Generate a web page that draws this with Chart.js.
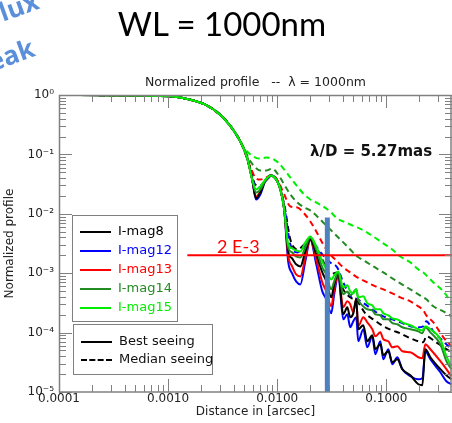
<!DOCTYPE html>
<html>
<head>
<meta charset="utf-8">
<script src="https://cdn.jsdelivr.net/npm/chart.js@4.4.0/dist/chart.umd.min.js"></script>
<style>
  html, body { margin: 0; padding: 0; background: #fff; overflow: hidden; }
  #wrap { position: relative; width: 452px; height: 423px; overflow: hidden; }
  #wrap canvas { position: absolute; left: 0; top: 0; }
  .ov { position: absolute; white-space: pre; line-height: 1; }
  .lgbox { position: absolute; border: 1px solid #7f7f7f; background: #fff; }
  .row { position: absolute; left: 0; font: 13px 'DejaVu Sans'; line-height: 1; }
  .row .ln { position: absolute; left: 7px; width: 31px; top: 7px; border-top: 2px solid #000; }
  .row .tx { position: absolute; left: 45px; top: 0; white-space: pre; }
</style>
</head>
<body>
<div id="wrap">
  <canvas id="chartProfile" width="452" height="423"></canvas>

  <div class="ov" style="left:-16px;top:-1px;transform:rotate(-20deg);transform-origin:0 0;font:bold 26px 'Open Sans';color:#5b8fd9;">flux</div>
  <div class="ov" style="left:-33px;top:51px;transform:rotate(-20deg);transform-origin:0 0;font:bold 26px 'Open Sans';color:#5b8fd9;">peak</div>

  <div class="ov" style="left:0;width:444px;top:3px;text-align:center;font:33px Lato;color:#000;">WL = 1000nm</div>
  <div class="ov" style="left:59px;width:393px;top:74px;text-align:center;font:12.5px 'DejaVu Sans';color:#222;">Normalized profile   --  λ = 1000nm</div>
  <div class="ov" style="left:310px;top:142px;font:bold 15px 'DejaVu Sans';color:#111;">λ/D = 5.27mas</div>
  <div class="ov" style="left:217px;top:235px;font:18px Lato;color:#ff0000;">2 E-3</div>

  <div class="lgbox" style="left:72px;top:215px;width:104px;height:105px;">
    <div class="row" style="top:8px;color:#000;"><span class="ln" style="border-color:#000;"></span><span class="tx">I-mag8</span></div>
    <div class="row" style="top:27px;color:#0000ff;"><span class="ln" style="border-color:#0000ff;"></span><span class="tx">I-mag12</span></div>
    <div class="row" style="top:46px;color:#ff0000;"><span class="ln" style="border-color:#ff0000;"></span><span class="tx">I-mag13</span></div>
    <div class="row" style="top:65px;color:#228b22;"><span class="ln" style="border-color:#228b22;"></span><span class="tx">I-mag14</span></div>
    <div class="row" style="top:84px;color:#00ee00;"><span class="ln" style="border-color:#00ee00;"></span><span class="tx">I-mag15</span></div>
  </div>
  <div class="lgbox" style="left:73px;top:324px;width:138px;height:49px;">
    <div class="row" style="top:9px;color:#111;"><span class="ln" style="border-color:#000;"></span><span class="tx">Best seeing</span></div>
    <div class="row" style="top:27px;color:#111;"><span class="ln" style="border-top-style:dashed;border-color:#000;"></span><span class="tx">Median seeing</span></div>
  </div>
</div>

<script>
// distances [arcsec]
const bestDist = [0.0001, 0.001, 0.0016, 0.0022, 0.003, 0.0037, 0.0046, 0.0053, 0.0059, 0.0064,
  0.007, 0.0078, 0.0088, 0.0098, 0.0107, 0.0116, 0.0126, 0.0137, 0.0149, 0.0163,
  0.0181, 0.0201, 0.0228, 0.0259, 0.0282, 0.0313, 0.0333, 0.0363, 0.0403, 0.0439,
  0.0467, 0.0498, 0.053, 0.0553, 0.0615, 0.0669, 0.0744, 0.0793, 0.0881, 0.0939,
  0.1043, 0.1135, 0.1261, 0.1402, 0.1661, 0.1966, 0.2139, 0.2279, 0.2533, 0.3129,
  0.3552, 0.3947];
const medianDist = [0.0001, 0.001, 0.0016, 0.0022, 0.003, 0.0037, 0.0046, 0.0051, 0.0057, 0.0063,
  0.007, 0.0079, 0.009, 0.0102, 0.0116, 0.0132, 0.0153, 0.0177, 0.0201, 0.0228,
  0.0264, 0.0306, 0.0355, 0.0403, 0.0467, 0.0542, 0.0642, 0.076, 0.0939, 0.1135,
  0.1344, 0.1661, 0.1966, 0.2184, 0.2328, 0.2699, 0.3333, 0.3947];

// best seeing (solid)
const bestMag8 = [1.0, 0.955, 0.834, 0.687, 0.467, 0.305, 0.164, 0.0883, 0.0377, 0.0181,
  0.0228, 0.0363, 0.0441, 0.0377, 0.0256, 0.0118, 0.00232, 0.00177, 0.00141, 0.0013,
  0.00232, 0.0037, 0.00207, 0.00103, 0.000728, 0.000392, 0.000648, 0.000993, 0.000203, 0.000266,
  0.000181, 0.000211, 0.000363, 0.000114, 0.000133, 7.14e-5, 9.01e-5, 5.25e-5, 6.37e-5, 4.16e-5,
  4.85e-5, 3.17e-5, 3.56e-5, 2.42e-5, 1.91e-5, 1.35e-5, 1.3e-5, 5.25e-5, 3.85e-5, 2.42e-5,
  1.91e-5, 1.64e-5];
const bestMag12 = [1.0, 0.955, 0.834, 0.687, 0.467, 0.305, 0.164, 0.0883, 0.0377, 0.0174,
  0.0211, 0.0363, 0.0441, 0.0377, 0.0256, 0.0118, 0.00158, 0.000993, 0.000728, 0.000648,
  0.00158, 0.0037, 0.00141, 0.000494, 0.000363, 0.000211, 0.000441, 0.000918, 0.000167, 0.000203,
  0.000123, 0.000155, 0.000181, 7.14e-5, 0.000114, 5.66e-5, 8.67e-5, 4.33e-5, 7.14e-5, 3.56e-5,
  5.25e-5, 2.93e-5, 3.85e-5, 2.42e-5, 1.84e-5, 1.64e-5, 1.71e-5, 4.85e-5, 3.56e-5, 2.15e-5,
  1.52e-5, 1.35e-5];
const bestMag13 = [1.0, 0.955, 0.834, 0.687, 0.467, 0.305, 0.164, 0.0883, 0.0377, 0.0195,
  0.0237, 0.0363, 0.0441, 0.0377, 0.0256, 0.0118, 0.00199, 0.0013, 0.000955, 0.000883,
  0.00184, 0.0037, 0.00171, 0.0007, 0.000494, 0.000277, 0.000535, 0.000955, 0.000266, 0.000336,
  0.000299, 0.000219, 0.000363, 0.000128, 0.000181, 0.000149, 0.000114, 8.67e-5, 0.000101, 7.73e-5,
  7.14e-5, 5.66e-5, 5.89e-5, 4.85e-5, 4.67e-5, 3.85e-5, 3.7e-5, 6.37e-5, 5.25e-5, 3.3e-5,
  2.42e-5, 1.84e-5];
const bestMag14 = [1.0, 0.955, 0.834, 0.687, 0.467, 0.305, 0.164, 0.0883, 0.0377, 0.0228,
  0.0256, 0.0363, 0.0441, 0.0377, 0.0256, 0.0118, 0.00272, 0.00224, 0.00191, 0.00184,
  0.00272, 0.004, 0.00251, 0.00125, 0.000955, 0.000535, 0.000728, 0.00103, 0.000441, 0.000494,
  0.000424, 0.000475, 0.000535, 0.000363, 0.000277, 0.000247, 0.000237, 0.000203, 0.000195, 0.000167,
  0.000167, 0.000144, 0.000138, 0.000123, 0.000114, 0.000105, 9.73e-5, 0.000123, 0.000101, 6.37e-5,
  3.3e-5, 2.42e-5];
const bestMag15 = [1.0, 0.955, 0.834, 0.687, 0.467, 0.305, 0.164, 0.0883, 0.0377, 0.0256,
  0.0288, 0.0377, 0.0441, 0.0377, 0.0256, 0.0118, 0.00305, 0.00261, 0.00242, 0.00232,
  0.0033, 0.00416, 0.00282, 0.00158, 0.00116, 0.000787, 0.000918, 0.00107, 0.000577, 0.000624,
  0.000494, 0.000457, 0.000535, 0.000392, 0.000408, 0.000311, 0.000288, 0.000247, 0.000247, 0.000211,
  0.000195, 0.000174, 0.000167, 0.000149, 0.000133, 0.000114, 0.000109, 0.000128, 0.000114, 7.73e-5,
  4e-5, 2.72e-5];

// median seeing (dashed)
const medianMag8 = [1.0, 0.955, 0.834, 0.687, 0.467, 0.305, 0.164, 0.1072, 0.0556, 0.0311,
  0.0299, 0.0377, 0.0441, 0.0336, 0.0143, 0.0037, 0.00251, 0.00305, 0.004, 0.00272,
  0.00158, 0.000955, 0.00103, 0.000535, 0.000392, 0.000336, 0.000211, 0.000167, 0.000128, 0.000109,
  9.73e-5, 8.02e-5, 7.14e-5, 6.87e-5, 8.67e-5, 7.43e-5, 5.66e-5, 4.67e-5];
const medianMag12 = [1.0, 0.955, 0.834, 0.687, 0.467, 0.305, 0.164, 0.1072, 0.0534, 0.0288,
  0.0277, 0.0363, 0.0441, 0.0336, 0.0133, 0.00305, 0.00224, 0.00282, 0.00385, 0.00282,
  0.00199, 0.00152, 0.00125, 0.0007, 0.000424, 0.000363, 0.000299, 0.000237, 0.000188, 0.000167,
  0.000149, 0.000128, 0.000123, 0.000128, 0.000155, 0.000105, 7.14e-5, 5.25e-5];
const medianMag13 = [1.0, 0.955, 0.834, 0.687, 0.467, 0.305, 0.164, 0.1032, 0.06, 0.0408,
  0.0377, 0.0408, 0.0458, 0.0349, 0.0211, 0.0133, 0.0128, 0.0101, 0.00743, 0.00505,
  0.00305, 0.00207, 0.00158, 0.00125, 0.00103, 0.000849, 0.000728, 0.000624, 0.000535, 0.000457,
  0.000392, 0.000336, 0.000277, 0.000237, 0.000195, 0.000149, 8.34e-5, 5.89e-5];
const medianMag14 = [1.0, 0.955, 0.834, 0.687, 0.467, 0.305, 0.164, 0.1114, 0.0757, 0.06,
  0.0534, 0.0534, 0.0577, 0.0458, 0.0311, 0.0211, 0.0155, 0.0128, 0.0114, 0.00936,
  0.00714, 0.00545, 0.00416, 0.0033, 0.00251, 0.00191, 0.00158, 0.0013, 0.00103, 0.000818,
  0.000674, 0.000535, 0.000441, 0.000392, 0.000363, 0.000277, 0.000228, 0.000188];
const medianMag15 = [1.0, 0.955, 0.834, 0.687, 0.467, 0.305, 0.164, 0.1205, 0.0993, 0.0883,
  0.085, 0.0883, 0.085, 0.0728, 0.0556, 0.0408, 0.0288, 0.0211, 0.0174, 0.0155,
  0.0133, 0.0109, 0.00834, 0.00743, 0.00661, 0.00589, 0.00505, 0.00416, 0.00317, 0.00251,
  0.00191, 0.00152, 0.00116, 0.00103, 0.000918, 0.0007, 0.000494, 0.000323];

// annotations: 2E-3 level and lambda/D bar
const levelDist = [0.0015, 0.4];
const levelValue = [0.002, 0.002];
const barDist = [0.0288, 0.0288];
const barValue = [0.0087, 0.00001];

const xTicks = [0.0001, 0.001, 0.01, 0.1];
const yTicks = [1, 0.1, 0.01, 0.001, 0.0001, 0.00001];

const sup = { '0': '\u2070', '1': '\u00b9', '2': '\u00b2', '3': '\u00b3', '4': '\u2074', '5': '\u2075', '-': '\u207b' };

function pts(xs, ys) {
    return xs.map((x, i) => ({ x: x, y: ys[i] }));
}

function curve(label, xs, ys, color, dashed, order) {
    return {
        label: label,
        data: pts(xs, ys),
        borderColor: color,
        borderWidth: 2,
        borderDash: dashed ? [6, 4] : [],
        pointRadius: 0,
        cubicInterpolationMode: 'monotone',
        order: order
    };
}

// tick marks inward on all four sides + frame
const frameTicks = {
    id: 'frameTicks',
    afterDatasetsDraw(chart) {
        const { ctx, chartArea: a, scales: { x, y } } = chart;
        ctx.save();
        ctx.strokeStyle = '#808080';
        ctx.lineWidth = 1;
        ctx.beginPath();
        for (let e = -4; e <= -1; e++) {
            for (let m = 1; m <= 9; m++) {
                const v = m * Math.pow(10, e);
                if (v > x.max) break;
                const px = Math.round(x.getPixelForValue(v)) + 0.5;
                const len = m === 1 ? 13 : 7;
                ctx.moveTo(px, a.bottom); ctx.lineTo(px, a.bottom - len);
                ctx.moveTo(px, a.top); ctx.lineTo(px, a.top + len);
            }
        }
        for (let e = -5; e <= 0; e++) {
            for (let m = 1; m <= 9; m++) {
                const v = m * Math.pow(10, e);
                if (v > y.max) break;
                const py = Math.round(y.getPixelForValue(v)) + 0.5;
                const len = m === 1 ? 13 : 7;
                ctx.moveTo(a.left, py); ctx.lineTo(a.left + len, py);
                ctx.moveTo(a.right, py); ctx.lineTo(a.right - len, py);
            }
        }
        ctx.stroke();
        ctx.lineWidth = 1.5;
        ctx.strokeRect(a.left + 0.5, a.top + 0.5, a.right - a.left - 1.5, a.bottom - a.top - 0.5);
        ctx.restore();
    }
};

new Chart(document.getElementById('chartProfile'), {
    type: 'line',
    data: {
        datasets: [
            {
                label: '2 E-3', data: pts(levelDist, levelValue), borderColor: '#ff0000',
                borderWidth: 2, pointRadius: 0, order: 0
            },
            {
                label: 'lambda/D', data: pts(barDist, barValue), borderColor: '#4f81bd',
                borderWidth: 5, pointRadius: 0, order: 0
            },
            curve('I-mag15 median', medianDist, medianMag15, '#00ee00', true, 2),
            curve('I-mag14 median', medianDist, medianMag14, '#228b22', true, 2),
            curve('I-mag13 median', medianDist, medianMag13, '#ff0000', true, 2),
            curve('I-mag12 median', medianDist, medianMag12, '#0000ff', true, 2),
            curve('I-mag8 median', medianDist, medianMag8, '#000000', true, 2),
            curve('I-mag15', bestDist, bestMag15, '#00ee00', false, 1),
            curve('I-mag14', bestDist, bestMag14, '#228b22', false, 1),
            curve('I-mag8', bestDist, bestMag8, '#000000', false, 1),
            curve('I-mag13', bestDist, bestMag13, '#ff0000', false, 1),
            curve('I-mag12', bestDist, bestMag12, '#0000ff', false, 1)
        ]
    },
    options: {
        responsive: false,
        animation: false,
        layout: { padding: { top: 95, right: 0, left: 0, bottom: 0 } },
        plugins: { legend: { display: false }, tooltip: { enabled: false }, title: { display: false } },
        scales: {
            x: {
                type: 'logarithmic',
                min: 0.0001,
                max: 0.4,
                grid: { display: false, drawTicks: false },
                border: { display: false },
                afterBuildTicks: (scale) => { scale.ticks = xTicks.map(v => ({ value: v })); },
                afterFit: (scale) => { scale.height = 31; },
                ticks: {
                    autoSkip: false, maxRotation: 0, padding: 0,
                    color: '#222', font: { family: 'DejaVu Sans', size: 12 },
                    callback: (v) => Number(v).toFixed(4)
                },
                title: {
                    display: true, text: 'Distance in [arcsec]', color: '#222',
                    font: { family: 'DejaVu Sans', size: 12 }, padding: { top: 0, bottom: 4 }
                }
            },
            y: {
                type: 'logarithmic',
                min: 0.00001,
                max: 1,
                grid: { display: false, drawTicks: false },
                border: { display: false },
                afterBuildTicks: (scale) => { scale.ticks = yTicks.map(v => ({ value: v })); },
                afterFit: (scale) => { scale.width = 59; },
                ticks: {
                    autoSkip: false, padding: 5,
                    color: '#222', font: { family: 'DejaVu Sans', size: 12 },
                    callback: (v) => '10' + String(Math.round(Math.log10(v))).split('').map(c => sup[c]).join('')
                },
                title: {
                    display: true, text: 'Normalized profile', color: '#222',
                    font: { family: 'DejaVu Sans', size: 12 }, padding: { top: 3, bottom: 0 }
                }
            }
        }
    },
    plugins: [frameTicks]
});
</script>
</body>
</html>
